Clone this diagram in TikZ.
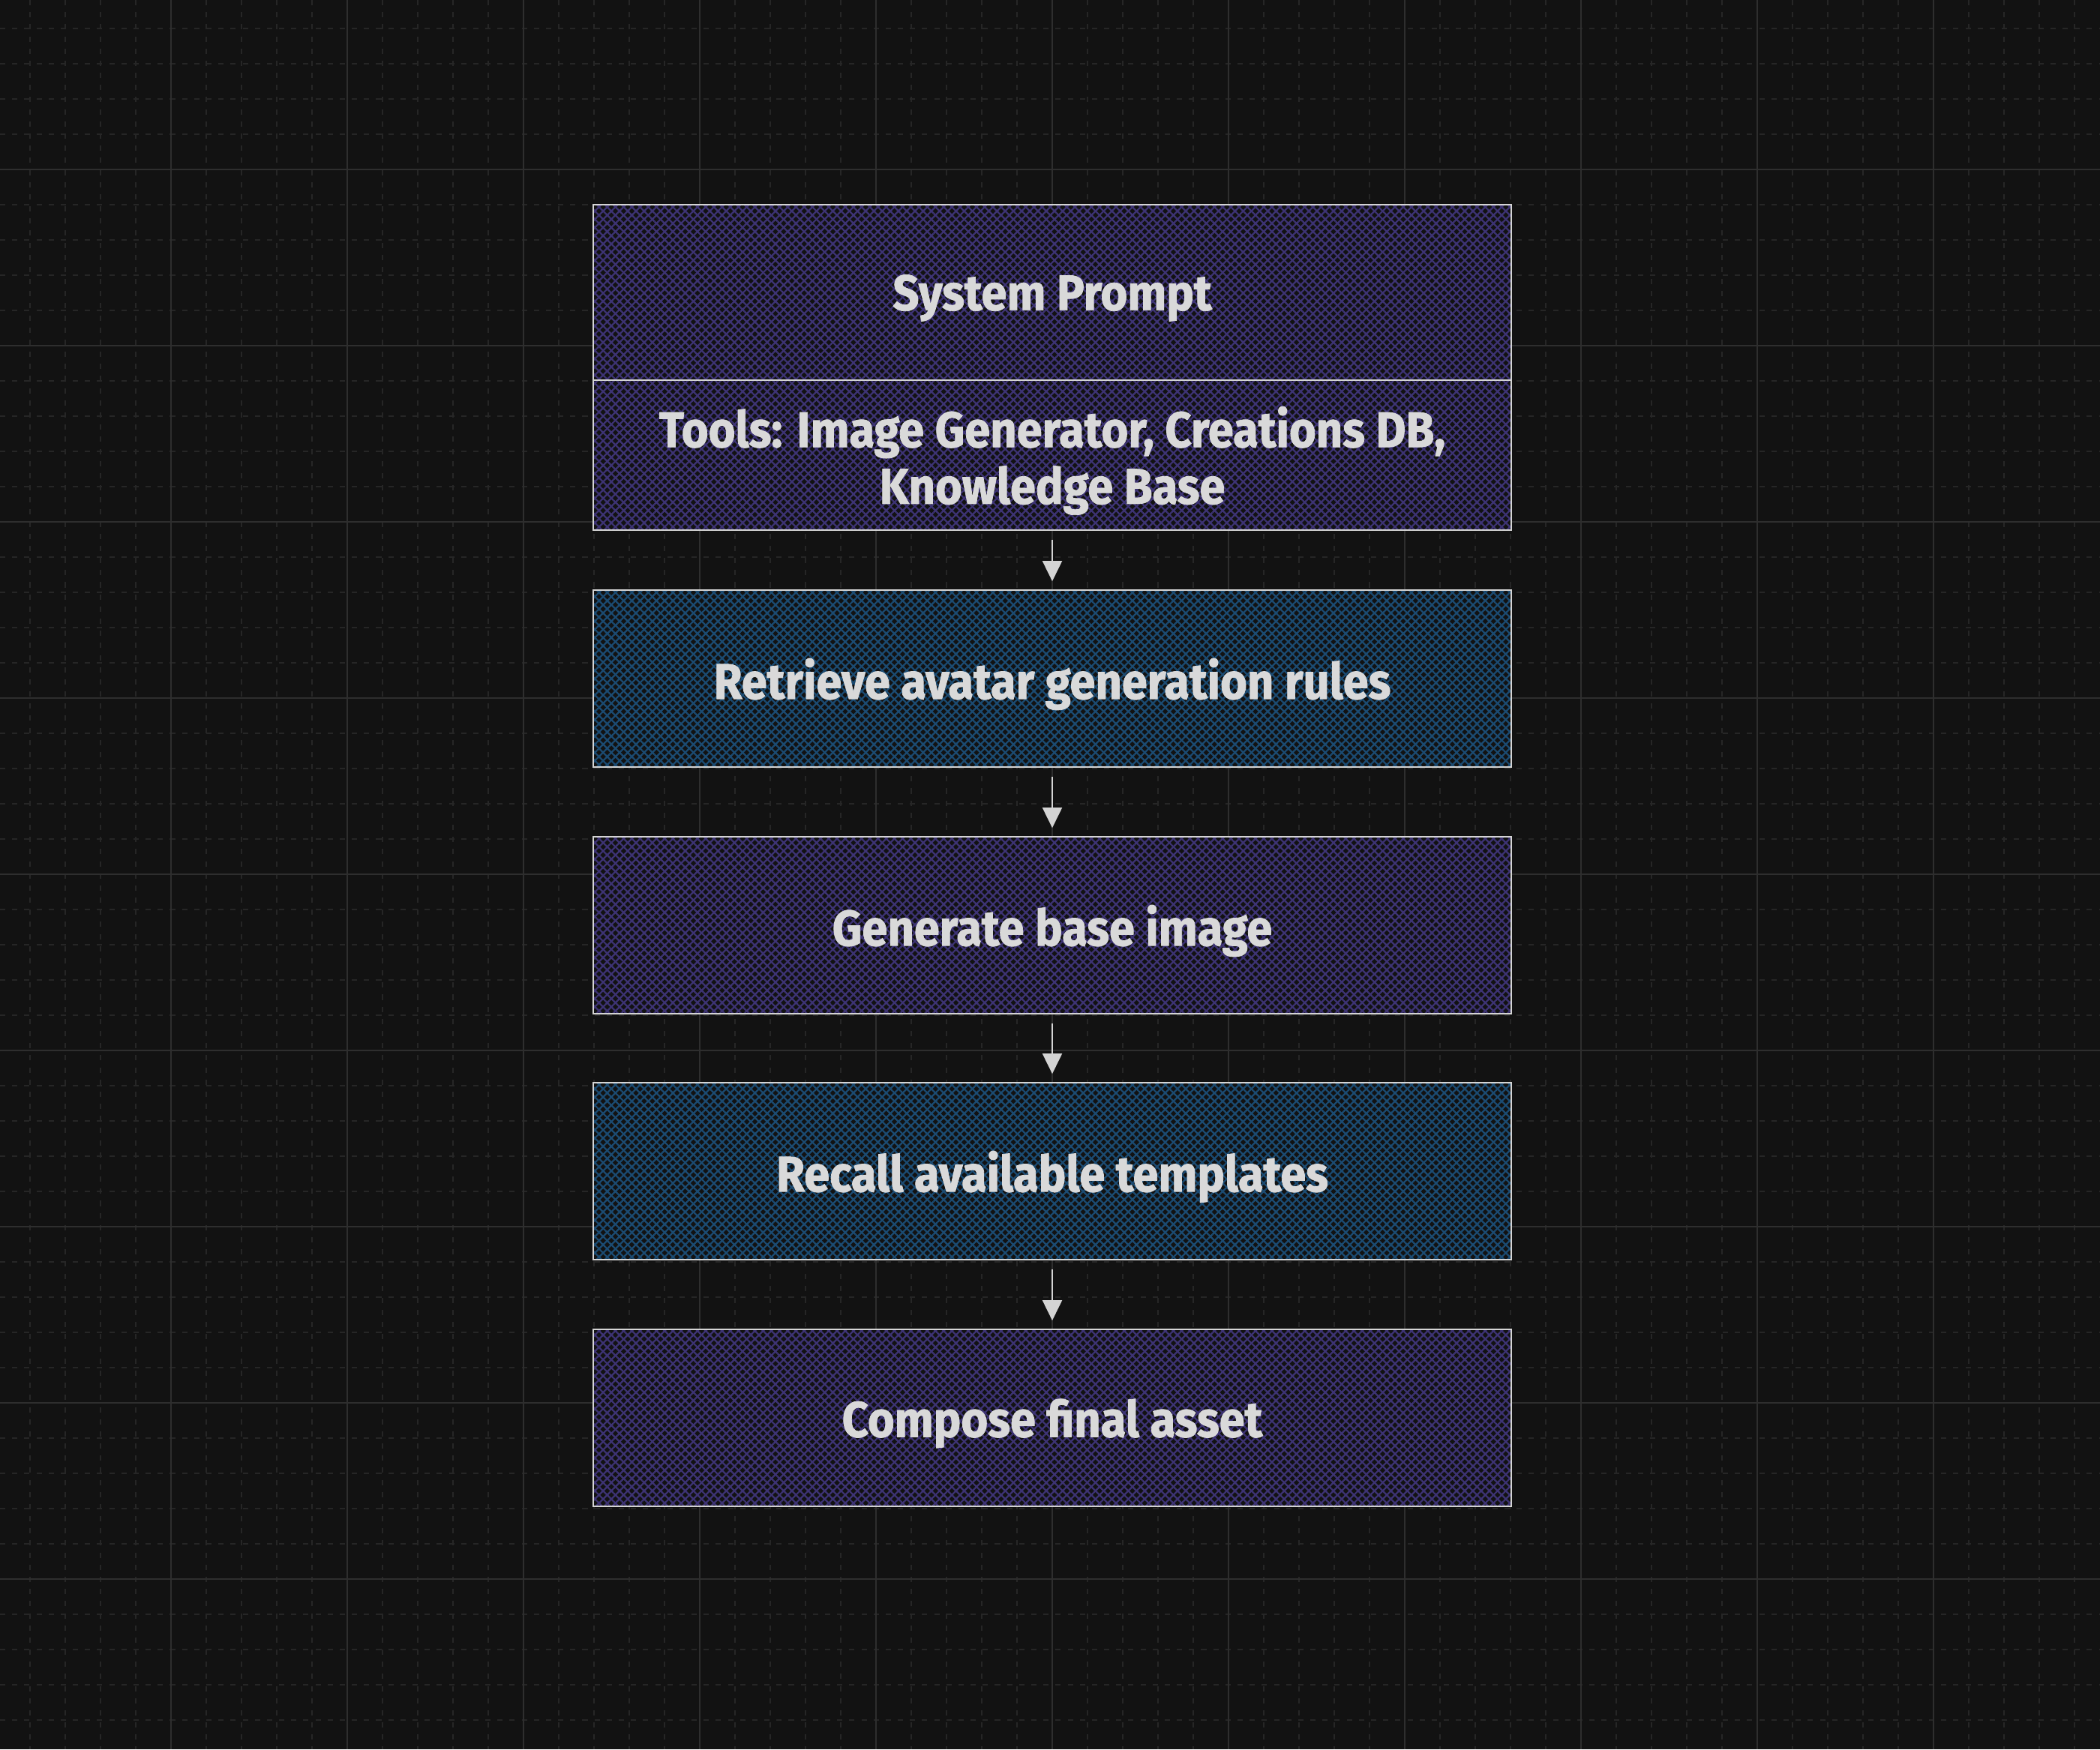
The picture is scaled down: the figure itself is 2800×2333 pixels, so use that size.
\documentclass[tikz,border=0pt]{standalone}
\usepackage{fontspec}
\setmainfont{Fira Sans}[FakeStretch=0.92, BoldFeatures={FakeBold=1.2}]
\usepackage{tikz}
\usetikzlibrary{arrows.meta,patterns.meta}
\definecolor{colorbg}{HTML}{121212}
\definecolor{colorgrid}{HTML}{2E2E2E}
\definecolor{colorsub}{HTML}{262626}
\definecolor{colorpu}{HTML}{3D3374}
\definecolor{colorbl}{HTML}{1B4B72}
\definecolor{colorln}{HTML}{D4D4D4}
\definecolor{colortx}{HTML}{D9D9D9}
\tikzset{
  gridmain/.style={colorgrid, line width=0.8pt},
  gridsub/.style={colorsub, line width=0.55pt, dash pattern=on 2pt off 2.6pt},
  boxbase/.style={draw=colorln, line width=0.7pt, minimum width=12.23cm, minimum height=2.36cm,
    text=colortx, font=\fontsize{19}{21.5}\selectfont\bfseries, align=center, inner sep=0pt,
    text depth=0pt, preaction={fill=colorbg}},
  boxpu/.style={boxbase,
    preaction={pattern={Lines[angle=45,distance=2.2pt,line width=0.65pt]}, pattern color=colorpu},
    preaction={pattern={Lines[angle=-45,distance=2.2pt,line width=0.65pt]}, pattern color=colorpu}},
  boxbl/.style={boxbase,
    preaction={pattern={Lines[angle=45,distance=2.2pt,line width=0.65pt]}, pattern color=colorbl},
    preaction={pattern={Lines[angle=-45,distance=2.2pt,line width=0.65pt]}, pattern color=colorbl}},
  edgeflow/.style={colorln, line width=0.6pt, -{Triangle[width=7.4pt,length=7.7pt]},
    shorten <=3.2pt, shorten >=3pt}
}

\begin{document}
\begin{tikzpicture}[x=0.01cm, y=-0.01cm]
\useasboundingbox (0,0) rectangle (2800,2333);
\fill[colorbg] (0,0) rectangle (2800,2333);
\foreach \k in {0,...,60}
  \draw[gridsub] ({-7+47*\k},0) -- ({-7+47*\k},2333);
\foreach \k in {0,...,50}
  \draw[gridsub] (0,{-9+47*\k}) -- (2800,{-9+47*\k});
\foreach \k in {0,...,12}
  \draw[gridmain] ({-7+235*\k},0) -- ({-7+235*\k},2333);
\foreach \k in {0,...,10}
  \draw[gridmain] (0,{-9+235*\k}) -- (2800,{-9+235*\k});

\node[boxpu, minimum height=2.34cm] (sys) at (1403,390) {System Prompt};
\node[boxpu, minimum height=2.0cm] (tools) at (1403,607) {Tools: Image Generator, Creations DB,\\Knowledge Base};
\node[boxbl] (retr) at (1403,905) {Retrieve avatar generation rules};
\node[boxpu] (gen) at (1403,1234) {Generate base image};
\node[boxbl] (recall) at (1403,1562) {Recall available templates};
\node[boxpu] (comp) at (1403,1891) {Compose final asset};

\draw[edgeflow] (tools) -- (retr);
\draw[edgeflow] (retr) -- (gen);
\draw[edgeflow] (gen) -- (recall);
\draw[edgeflow] (recall) -- (comp);
\end{tikzpicture}
\end{document}
